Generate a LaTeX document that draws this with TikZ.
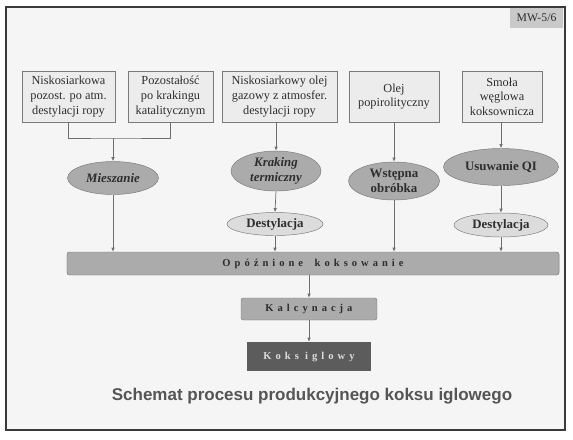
\documentclass[tikz,border=0pt]{standalone}
\usepackage{fontspec}
\setmainfont{Liberation Serif}
\newfontfamily\titlefont{Liberation Sans}
\usetikzlibrary{arrows.meta, shapes.geometric}
\definecolor{framecol}{HTML}{3A3A3A}
\definecolor{panel}{HTML}{F5F5F5}
\definecolor{boxfill}{HTML}{ECECEC}
\definecolor{boxline}{HTML}{7A7A7A}
\definecolor{ellfill}{HTML}{ABABAB}
\definecolor{distfill}{HTML}{DCDCDC}
\definecolor{linecol}{HTML}{6E6E6E}
\definecolor{txtcol}{HTML}{2E2E2E}
\definecolor{darkfill}{HTML}{5C5C5C}
\definecolor{tagfill}{HTML}{C9C9C9}
\definecolor{titlecol}{HTML}{555555}

\begin{document}
\begin{tikzpicture}[x=0.03cm, y=-0.03cm,
  feed/.style={draw=boxline, fill=boxfill, text=txtcol, align=center, inner sep=1pt,
    minimum height=1.53cm, font=\fontsize{10.5}{12.5}\selectfont},
  proc/.style={ellipse, draw=boxline, fill=ellfill, text=txtcol, align=center, inner sep=0pt,
    font=\fontsize{11}{13}\selectfont\bfseries},
  proci/.style={proc, font=\fontsize{11}{13}\selectfont\bfseries\itshape},
  dist/.style={proc, fill=distfill},
  spaced/.style={text=txtcol, font=\fontsize{9}{11}\selectfont\bfseries\addfontfeature{LetterSpace=38}},
  flow/.style={draw=linecol, line width=0.6pt},
  arr/.style={flow, -{Latex[length=3.5pt, width=3pt]}}
]
\useasboundingbox (0,0) rectangle (573,439);
\draw[framecol, line width=1.6pt, fill=panel] (6,7) rectangle (565,430);
\node[fill=tagfill, minimum width=1.59cm, minimum height=0.6cm, inner sep=1pt,
  font=\fontsize{10}{12}\selectfont, text=txtcol] (tag) at (536.5,18) {MW-5/6};

\node[feed, minimum width=2.79cm] (b1) at (68.5,96.5) {Niskosiarkowa\\pozost. po atm.\\destylacji ropy};
\node[feed, minimum width=2.55cm] (b2) at (170.5,96.5) {Pozostałość\\po krakingu\\katalitycznym};
\node[feed, minimum width=3.45cm] (b3) at (279.5,96.5) {Niskosiarkowy olej\\gazowy z atmosfer.\\destylacji ropy};
\node[feed, minimum width=2.70cm] (b4) at (394,96.5) {Olej\\popirolityczny};
\node[feed, minimum width=2.40cm] (b5) at (502,96.5) {Smoła\\węglowa\\koksownicza};

\node[proci, minimum width=2.73cm, minimum height=0.99cm] (mix) at (113,178) {Mieszanie};
\node[proci, minimum width=2.70cm, minimum height=1.20cm] (krak) at (276,171) {Kraking\\termiczny};
\node[dist, minimum width=2.88cm, minimum height=0.69cm] (dest1) at (275,224) {Destylacja};
\node[proc, minimum width=2.73cm, minimum height=1.14cm] (wst) at (394,181) {Wstępna\\obróbka};
\node[proc, minimum width=3.45cm, minimum height=1.11cm] (qi) at (501,167) {Usuwanie QI};
\node[dist, minimum width=2.82cm, minimum height=0.72cm] (dest2) at (501,225) {Destylacja};

\node[spaced, draw=boxline, fill=ellfill, rounded corners=2pt, minimum width=14.76cm,
  minimum height=0.69cm] (coke) at (313,263.5) {Opóźnione\hspace*{1.1em}koksowanie};
\node[spaced, draw=boxline, fill=ellfill, rounded corners=2pt, minimum width=4.08cm,
  minimum height=0.66cm] (calc) at (309,309) {Kalcynacja};
\node[spaced, fill=darkfill, text=distfill, minimum width=3.72cm,
  minimum height=0.87cm] (needle) at (309,356.5) {Koks\hspace*{0.6em}iglowy};

\node[text=titlecol, font=\titlefont\fontsize{14.5}{17}\selectfont\bfseries] (title) at (312,396)
  {Schemat procesu produkcyjnego koksu iglowego};

\coordinate (join) at (113,138);
\draw[flow] (b1.south) |- (join) -| (b2.south);
\draw[arr] (join) -- (mix.north);
\draw[arr] (krak.north |- b3.south) -- (krak.north);
\draw[arr] (krak.south) -- (dest1.north);
\draw[arr] (b4.south) -- (wst.north);
\draw[arr] (qi.north |- b5.south) -- (qi.north);
\draw[arr] (qi.south) -- (dest2.north);
\draw[arr] (mix.south) -- (mix.south |- coke.north);
\draw[arr] (dest1.south) -- (dest1.south |- coke.north);
\draw[arr] (wst.south) -- (wst.south |- coke.north);
\draw[arr] (dest2.south) -- (dest2.south |- coke.north);
\draw[arr] (calc.north |- coke.south) -- (calc.north);
\draw[arr] (calc.south) -- (needle.north);
\end{tikzpicture}
\end{document}
